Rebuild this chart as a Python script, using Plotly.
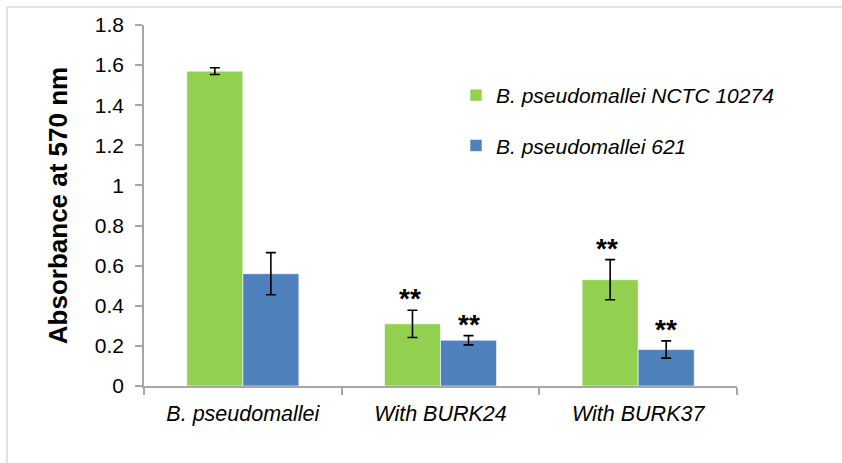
import plotly.graph_objects as go

# Absorbance readings (mean ± SD) for each condition
categories = ["B. pseudomallei", "With BURK24", "With BURK37"]
nctc_10274 = [1.57, 0.31, 0.53]
nctc_10274_err = [0.017, 0.068, 0.10]
bp_621 = [0.56, 0.228, 0.182]
bp_621_err = [0.105, 0.023, 0.043]
nctc_sig = ["", "**", "**"]
bp621_sig = ["", "**", "**"]

tick_vals = [0, 0.2, 0.4, 0.6, 0.8, 1.0, 1.2, 1.4, 1.6, 1.8]
tick_text = ["0", "0.2", "0.4", "0.6", "0.8", "1", "1.2", "1.4", "1.6", "1.8"]

W, H = 842, 463
L, R, T, B = 144, 105, 25, 77
pw, ph = W - L - R, H - T - B

font_family = "Arial, Liberation Sans, sans-serif"

fig = go.Figure()
fig.add_trace(go.Bar(
    name="<i>B. pseudomallei NCTC 10274</i>",
    x=categories, y=nctc_10274,
    marker=dict(color="#92d050", line=dict(color="#ffffff", width=0.6)),
    error_y=dict(type="data", array=nctc_10274_err, color="#000000", thickness=1.6, width=5),
    legendgroup="a",
))
fig.add_trace(go.Bar(
    name="<i>B. pseudomallei 621</i>",
    x=categories, y=bp_621,
    marker=dict(color="#4f81bd", line=dict(color="#ffffff", width=0.6)),
    error_y=dict(type="data", array=bp_621_err, color="#000000", thickness=1.6, width=5),
    legendgroup="b",
))

# significance markers above the error bars
bar_offset = 28
for xi, (v, e, s) in enumerate(zip(nctc_10274, nctc_10274_err, nctc_sig)):
    if s:
        fig.add_annotation(x=xi, y=v + e, xref="x", yref="y", text="<b>" + s + "</b>",
                           showarrow=False, xshift=-bar_offset - 3, yanchor="bottom", yshift=-6,
                           font=dict(family=font_family, size=28, color="#000000"))
for xi, (v, e, s) in enumerate(zip(bp_621, bp_621_err, bp621_sig)):
    if s:
        fig.add_annotation(x=xi, y=v + e, xref="x", yref="y", text="<b>" + s + "</b>",
                           showarrow=False, xshift=bar_offset, yanchor="bottom", yshift=-6,
                           font=dict(family=font_family, size=28, color="#000000"))

# chart-area frame (top and left edges)
fx0 = (7 - L) / pw
fy1 = (H - B - 7) / ph
fig.add_shape(type="line", xref="paper", yref="paper", x0=fx0, x1=2, y0=fy1, y1=fy1,
              line=dict(color="#d9d9d9", width=1.5))
fig.add_shape(type="line", xref="paper", yref="paper", x0=fx0, x1=fx0, y0=-1, y1=fy1,
              line=dict(color="#d9d9d9", width=1.5))

fig.update_layout(
    width=W, height=H,
    margin=dict(l=L, r=R, t=T, b=B, pad=0),
    paper_bgcolor="#ffffff", plot_bgcolor="#ffffff",
    barmode="group", bargap=0.433, bargroupgap=0,
    font=dict(family=font_family, color="#000000"),
    showlegend=True,
    legend=dict(
        x=(456 - L) / pw, y=(H - B - 75) / ph, xanchor="left", yanchor="top",
        font=dict(family=font_family, size=21, color="#000000"),
        traceorder="grouped", tracegroupgap=20,
        bgcolor="rgba(0,0,0,0)", itemwidth=30,
    ),
    xaxis=dict(
        showline=True, linecolor="#a6a6a6", linewidth=1.5,
        ticks="outside", ticklen=7, tickcolor="#a6a6a6", tickwidth=1.5,
        tickson="boundaries",
        tickfont=dict(family=font_family, size=21.5, color="#000000"),
        ticklabelstandoff=7,
        tickvals=categories, ticktext=["<i>" + c + "</i>" for c in categories],
        showgrid=False, zeroline=False,
    ),
    yaxis=dict(
        range=[0, 1.8], tickvals=tick_vals, ticktext=tick_text,
        showline=True, linecolor="#a6a6a6", linewidth=1.5,
        ticks="outside", ticklen=7, tickcolor="#a6a6a6", tickwidth=1.5,
        tickfont=dict(family=font_family, size=21, color="#000000"),
        ticklabelstandoff=7,
        showgrid=False, zeroline=False,
        title=dict(text="<b>Absorbance at 570 nm</b>", standoff=20,
                   font=dict(family=font_family, size=26, color="#000000")),
    ),
)

fig.write_html("out.html")
